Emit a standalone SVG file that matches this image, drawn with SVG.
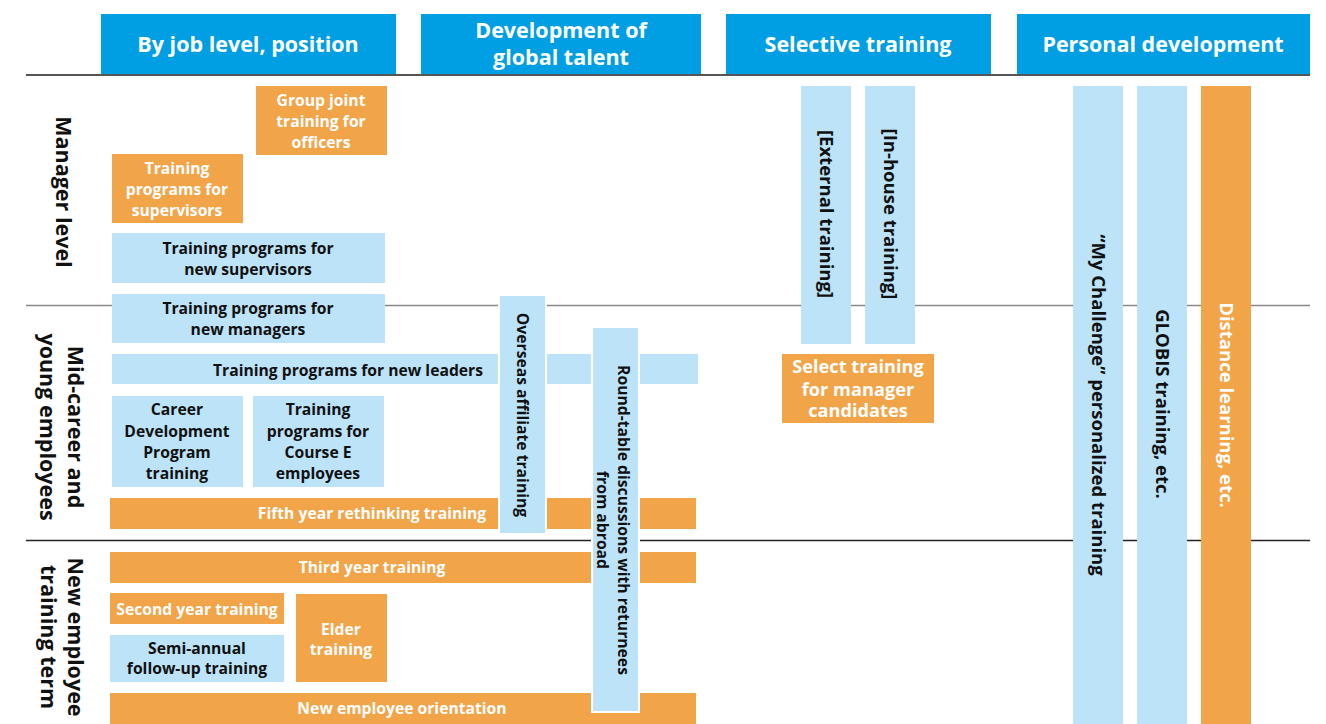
<svg xmlns="http://www.w3.org/2000/svg" width="1326" height="724" viewBox="0 0 1326 724">
<style>
text{font-family:"Open Sans","Noto Sans","DejaVu Sans",sans-serif;font-weight:700;text-anchor:middle}
.hd{fill:#009FE3}
.hdt{fill:#fff;font-size:21.5px}
.lb{fill:#BCE3F8}
.or{fill:#F2A449}
.wb{fill:#fff}
.tk{fill:#111;font-size:15.7px}
.tw{fill:#fff;font-size:15.7px}
.bk{fill:#111;font-size:18.5px}
.bw{fill:#fff;font-size:18.2px}
.row{fill:#111;font-size:21.5px}
.sep{stroke-width:1.5;fill:none}
</style>
<rect width="1326" height="724" fill="#fff"/>
<g id="separators">
<line class="sep" x1="26" y1="305.5" x2="1310" y2="305.5" stroke="#888"/>
<line class="sep" x1="26" y1="540.5" x2="1310" y2="540.5" stroke="#222"/>
</g>
<g id="headers">
<g id="h-job"><rect class="hd" x="101" y="14" width="295" height="61"/><text class="hdt" x="248" y="51.5">By job level, position</text></g>
<g id="h-global"><rect class="hd" x="421" y="14" width="280" height="61"/><text class="hdt" x="561" y="38">Development of</text><text class="hdt" x="561" y="65">global talent</text></g>
<g id="h-select"><rect class="hd" x="726" y="14" width="265" height="61"/><text class="hdt" x="858" y="51.5">Selective training</text></g>
<g id="h-personal"><rect class="hd" x="1017" y="14" width="293" height="61"/><text class="hdt" x="1163" y="51.5">Personal development</text></g>
<line x1="26" y1="75" x2="1310" y2="75" stroke="#555" stroke-width="2"/>
</g>
<g id="row-labels">
<g id="r-manager"><text class="row" transform="translate(62,192) rotate(90)" x="0" y="6">Manager level</text></g>
<g id="r-mid"><text class="row" transform="translate(62,427) rotate(90)"><tspan x="0" y="-6">Mid-career and</tspan><tspan x="0" y="22">young employees</tspan></text></g>
<g id="r-new"><text class="row" transform="translate(62,637) rotate(90)"><tspan x="0" y="-6">New employee</tspan><tspan x="0" y="21">training term</tspan></text></g>
</g>
<g id="n-group-joint"><rect class="or" x="256" y="86" width="131" height="69"/><text class="tw"><tspan x="321" y="105.5">Group joint</tspan><tspan x="321" y="126.5">training for</tspan><tspan x="321" y="147.5">officers</tspan></text></g>
<g id="n-supervisors"><rect class="or" x="112" y="154" width="131" height="69"/><text class="tw"><tspan x="177" y="173.5">Training</tspan><tspan x="177" y="194.5">programs for</tspan><tspan x="177" y="215.5">supervisors</tspan></text></g>
<g id="n-new-supervisors"><rect class="lb" x="112" y="233" width="273" height="50"/><text class="tk"><tspan x="248" y="253.5">Training programs for</tspan><tspan x="248" y="274.5">new supervisors</tspan></text></g>
<g id="n-new-managers"><rect class="lb" x="112" y="294" width="273" height="49"/><text class="tk"><tspan x="248" y="313.5">Training programs for</tspan><tspan x="248" y="334.5">new managers</tspan></text></g>
<g id="n-new-leaders"><rect class="lb" x="112" y="354" width="586" height="30"/><text class="tk" x="348" y="375.5">Training programs for new leaders</text></g>
<g id="n-career"><rect class="lb" x="112" y="396" width="131" height="91"/><text class="tk"><tspan x="177" y="414.5">Career</tspan><tspan x="177" y="436.5">Development</tspan><tspan x="177" y="457.5">Program</tspan><tspan x="177" y="478.5">training</tspan></text></g>
<g id="n-course-e"><rect class="lb" x="253" y="396" width="131" height="91"/><text class="tk"><tspan x="318" y="414.5">Training</tspan><tspan x="318" y="436.5">programs for</tspan><tspan x="318" y="457.5">Course E</tspan><tspan x="318" y="478.5">employees</tspan></text></g>
<g id="n-fifth"><rect class="or" x="110" y="498" width="586" height="31"/><text class="tw" x="372" y="518.5">Fifth year rethinking training</text></g>
<g id="n-third"><rect class="or" x="110" y="552" width="586" height="31"/><text class="tw" x="372" y="572.5">Third year training</text></g>
<g id="n-second"><rect class="or" x="110" y="593" width="174" height="31"/><text class="tw" x="197" y="614.5">Second year training</text></g>
<g id="n-semi"><rect class="lb" x="110" y="635" width="174" height="47"/><text class="tk"><tspan x="197" y="654">Semi-annual</tspan><tspan x="197" y="674">follow-up training</tspan></text></g>
<g id="n-elder"><rect class="or" x="296" y="594" width="91" height="88"/><text class="tw"><tspan x="341" y="635">Elder</tspan><tspan x="341" y="655">training</tspan></text></g>
<g id="n-orientation"><rect class="or" x="110" y="693" width="586" height="31"/><text class="tw" x="402" y="713.5">New employee orientation</text></g>
<g id="n-overseas"><rect class="wb" x="498" y="294" width="49" height="241"/><rect class="lb" x="500" y="296" width="45" height="237"/><text class="tk" transform="translate(522,415) rotate(90)" x="0" y="5.5">Overseas affiliate training</text></g>
<g id="n-roundtable"><rect class="wb" x="591" y="326" width="49" height="387"/><rect class="lb" x="593" y="328" width="45" height="383"/><text class="tk" transform="translate(613,520) rotate(90)"><tspan x="0" y="-4.5">Round-table discussions with returnees</tspan><tspan x="0" y="16.5">from abroad</tspan></text></g>
<g id="n-external"><rect class="lb" x="801" y="86" width="50" height="258"/><text class="bk" transform="translate(826,214) rotate(90)" x="0" y="6.5">[External training]</text></g>
<g id="n-inhouse"><rect class="lb" x="865" y="86" width="50" height="258"/><text class="bk" transform="translate(890,214) rotate(90)" x="0" y="6.5">[In-house training]</text></g>
<g id="n-select"><rect class="or" x="782" y="354" width="152" height="69"/><text class="bw"><tspan x="858" y="373">Select training</tspan><tspan x="858" y="395.5">for manager</tspan><tspan x="858" y="417">candidates</tspan></text></g>
<g id="n-mychallenge"><rect class="lb" x="1073" y="86" width="50" height="638"/><text class="bk" transform="translate(1098,405) rotate(90)" x="0" y="6.5">“My Challenge” personalized training</text></g>
<g id="n-globis"><rect class="lb" x="1137" y="86" width="50" height="638"/><text class="bk" transform="translate(1162,404) rotate(90)" x="0" y="6.5">GLOBIS training, etc.</text></g>
<g id="n-distance"><rect class="or" x="1201" y="86" width="50" height="638"/><text class="bw" transform="translate(1226,405) rotate(90)" x="0" y="6.5" style="font-size:18.5px">Distance learning, etc.</text></g>
</svg>
